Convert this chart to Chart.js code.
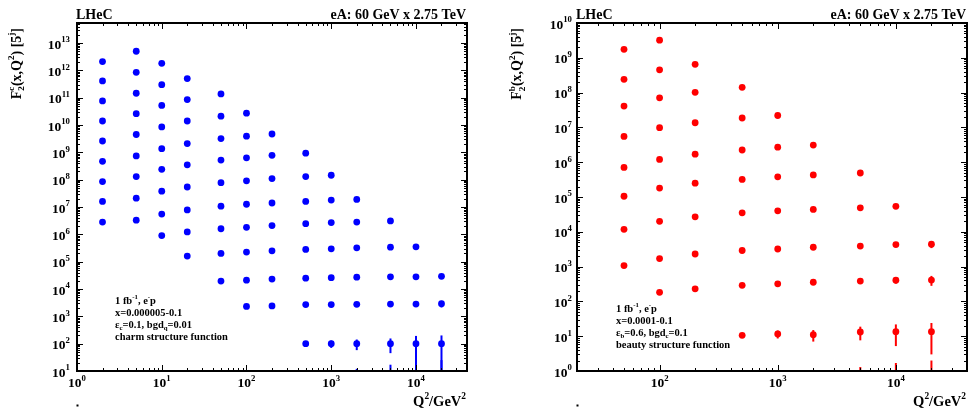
<!DOCTYPE html>
<html>
<head>
<meta charset="utf-8">
<script src="https://cdn.jsdelivr.net/npm/chart.js@4/dist/chart.umd.min.js"></script>
<style>
  body{margin:0;background:#fff;width:971px;height:415px;overflow:hidden;}
  .pane{position:absolute;top:0;height:415px;}
</style>
</head>
<body>
<div class="pane" style="left:0;width:485px"><canvas id="charm"></canvas></div>
<div class="pane" style="left:485px;width:486px"><canvas id="beauty"></canvas></div>
<script>
// charm panel: one list of F2 values per Q2 column (top to bottom)
let charmQ2 = [2, 5, 10, 20, 50, 100, 200, 500, 1000, 2000, 5000, 10000, 20000];
let charmF2 = [
  [2.1e12, 4.1e11, 7.6e10, 1.4e10, 2.6e9, 4.7e8, 8.5e7, 1.6e7, 2.8e6],
  [5e12, 8.5e11, 1.45e11, 2.6e10, 4.5e9, 7.4e8, 1.3e8, 2.1e7, 3.3e6],
  [1.8e12, 3e11, 5.2e10, 8.5e9, 1.36e9, 2.4e8, 3.8e7, 5.5e6, 9e5],
  [5e11, 8.5e10, 1.4e10, 2.1e9, 3.5e8, 5.4e7, 7.8e6, 1.23e6, 1.6e5],
  [1.37e11, 2.1e10, 3.2e9, 5.2e8, 7.8e7, 1.07e7, 1.6e6, 2e5, 1.95e4],
  [2.7e10, 3.9e9, 6.3e8, 9.1e7, 1.26e7, 1.8e6, 2.24e5, 2.1e4, 2.3e3],
  [4.7e9, 7.8e8, 1.1e8, 1.4e7, 2.1e6, 2.5e5, 2.3e4, 2.4e3],
  [9.3e8, 1.3e8, 1.6e7, 2.45e6, 2.8e5, 2.5e4, 2.7e3, 100],
  [1.45e8, 1.8e7, 2.7e6, 2.95e5, 2.6e4, 2.7e3, 100],
  [1.9e7, 2.8e6, 3.2e5, 2.7e4, 2.75e3, 100],
  [3.1e6, 3.4e5, 2.8e4, 2.8e3, 100],
  [3.5e5, 2.8e4, 2.8e3, 100],
  [2.9e4, 2.9e3, 100]
];
let charmErr = [[],[],[],[],[],[],[],
  [0,0,0,0,0,0,0,7],
  [0,0,0,0,0,0,30],
  [0,0,0,0,0,42],
  [0,0,0,150,55],
  [0,0,250,92],
  [0,800,100]
];
// points below the axis, only their error bars show
let charmLowQ2 = [2000, 5000, 10000, 20000];
let charmLowF2 = [1, 1, 1, 1];
let charmLowErr = [11, 16, 21, 24];

// beauty panel
let beautyQ2 = [50, 100, 200, 500, 1000, 2000, 5000, 10000, 20000];
let beautyF2 = [
  [1.75e9, 2.4e8, 4.1e7, 5.5e6, 7.1e5, 1.05e5, 1.18e4, 1.07e3],
  [3.2e9, 4.5e8, 7.1e7, 9.8e6, 1.2e6, 1.8e5, 2e4, 1.7e3, 182],
  [6.5e8, 1.02e8, 1.36e7, 1.7e6, 2.5e5, 2.7e4, 2.3e3, 230],
  [1.42e8, 1.86e7, 2.24e6, 3.2e5, 3.5e4, 2.9e3, 290, 10.6],
  [2.2e7, 2.7e6, 3.8e5, 4e4, 3.2e3, 320, 11.6],
  [3.1e6, 4.3e5, 4.4e4, 3.6e3, 355, 11],
  [4.9e5, 4.9e4, 3.9e3, 385, 13.2],
  [5.4e4, 4.3e3, 405, 13.5],
  [4.4e3, 410, 13.5]
];
let beautyErr = [[],[],[],
  [0,0,0,0,0,0,0,0.8],
  [0,0,0,0,0,0,3],
  [0,0,0,0,0,4],
  [0,0,0,25,5.6],
  [0,300,80,8.3],
  [1000,130,10.5]
];
let beautyLowQ2 = [5000, 10000, 20000];
let beautyLowF2 = [0.3, 0.3, 0.3];
let beautyLowErr = [1.0, 1.4, 1.7];

const FONT = '"Liberation Serif", "Times New Roman", serif';

function points(q2, vals, errs){
  let out = [];
  q2.forEach((q, i) => {
    vals[i].forEach((v, j) => {
      out.push({x: q, y: v, e: (errs[i] && errs[i][j]) || 0});
    });
  });
  return out;
}
function lowPoints(q2, vals, errs){
  return q2.map((q, i) => ({x: q, y: vals[i], e: errs[i]}));
}

// text with super/subscripts: segs = [[text, mode]], mode 0 normal, 1 sup, -1 sub, 2 = "sub|sup" stacked
function rich(ctx, segs, x, y, size, align){
  let small = size * 0.65;
  let big = "bold " + size + "px " + FONT;
  let sm = "bold " + small + "px " + FONT;
  let widths = segs.map(s => {
    if(s[1] === 0){ ctx.font = big; return ctx.measureText(s[0]).width; }
    ctx.font = sm;
    if(s[1] === 2){
      let p = s[0].split("|");
      return Math.max(ctx.measureText(p[0]).width, ctx.measureText(p[1]).width);
    }
    return ctx.measureText(s[0]).width;
  });
  let w = widths.reduce((a, b) => a + b, 0);
  let cx = x;
  if(align === "right") cx = x - w;
  if(align === "center") cx = x - w / 2;
  ctx.textAlign = "left";
  ctx.textBaseline = "alphabetic";
  segs.forEach((s, i) => {
    if(s[1] === 0){
      ctx.font = big; ctx.fillText(s[0], cx, y);
    }else if(s[1] === 1){
      ctx.font = sm; ctx.fillText(s[0], cx, y - size * 0.45);
    }else if(s[1] === -1){
      ctx.font = sm; ctx.fillText(s[0], cx, y + size * 0.25);
    }else{
      let p = s[0].split("|");
      ctx.font = sm;
      ctx.fillText(p[0], cx, y + size * 0.25);
      ctx.fillText(p[1], cx, y - size * 0.45);
    }
    cx += widths[i];
  });
  return w;
}

const errorBars = {
  id: "errorBars",
  beforeDatasetsDraw(chart){
    let ctx = chart.ctx, a = chart.chartArea;
    let xs = chart.scales.x, ys = chart.scales.y;
    ctx.save();
    ctx.beginPath();
    ctx.rect(a.left, a.top, a.right - a.left, a.bottom - a.top);
    ctx.clip();
    chart.data.datasets.forEach(ds => {
      ctx.strokeStyle = ds.barColor;
      ctx.lineWidth = 2;
      ds.data.forEach(p => {
        if(!p.e) return;
        let px = xs.getPixelForValue(p.x);
        let top = ys.getPixelForValue(p.y + p.e);
        let bot = p.y - p.e > 0 ? ys.getPixelForValue(p.y - p.e) : a.bottom + 10;
        ctx.beginPath();
        ctx.moveTo(px, top);
        ctx.lineTo(px, bot);
        ctx.stroke();
      });
    });
    ctx.restore();
  }
};

const frame = {
  id: "frame",
  afterDraw(chart){
    let o = chart.options.plugins.frame;
    let ctx = chart.ctx, a = chart.chartArea;
    let xs = chart.scales.x, ys = chart.scales.y;
    ctx.save();
    ctx.strokeStyle = "#000";
    ctx.fillStyle = "#000";
    ctx.lineWidth = 1;
    // ticks on all four sides
    function logTicks(min, max, fn){
      for(let d = Math.floor(Math.log10(min)); d <= Math.ceil(Math.log10(max)); d++){
        for(let m = 1; m <= 9; m++){
          let v = m * Math.pow(10, d);
          if(v < min * 0.999 || v > max * 1.001) continue;
          fn(v, m === 1, d);
        }
      }
    }
    ctx.beginPath();
    logTicks(ys.min, ys.max, (v, major) => {
      let py = Math.round(ys.getPixelForValue(v)) + 0.5;
      let len = major ? 6 : 3;
      ctx.moveTo(a.left, py); ctx.lineTo(a.left + len, py);
      ctx.moveTo(a.right, py); ctx.lineTo(a.right - len, py);
    });
    logTicks(xs.min, xs.max, (v, major) => {
      let px = Math.round(xs.getPixelForValue(v)) + 0.5;
      let len = major ? 6 : 3;
      ctx.moveTo(px, a.bottom); ctx.lineTo(px, a.bottom - len);
      ctx.moveTo(px, a.top); ctx.lineTo(px, a.top + len);
    });
    ctx.stroke();
    ctx.lineWidth = 2;
    ctx.strokeRect(a.left, a.top, a.right - a.left, a.bottom - a.top);

    // tick labels
    logTicks(ys.min, ys.max, (v, major, d) => {
      if(!major) return;
      let py = ys.getPixelForValue(v);
      rich(ctx, [["10", 0], [String(d), 1]], a.left - o.yLabelGap, py + 5.5, 13.5, "right");
    });
    logTicks(xs.min, xs.max, (v, major, d) => {
      if(!major) return;
      let px = xs.getPixelForValue(v);
      rich(ctx, [["10", 0], [String(d), 1]], px, a.bottom + 16, 13.5, "center");
    });

    // headers
    rich(ctx, [["LHeC", 0]], a.left - 1, 18.5, 14, "left");
    rich(ctx, [["eA: 60 GeV x 2.75 TeV", 0]], a.right - 1, 18.5, 14, "right");

    // axis titles
    rich(ctx, [["Q", 0], ["2", 1], ["/GeV", 0], ["2", 1]], a.right - 1, 405.5, 14.5, "right");
    ctx.save();
    ctx.translate(o.yTitleX, 28);
    ctx.rotate(-Math.PI / 2);
    rich(ctx, [["F", 0], ["2|" + o.flavour, 2], ["(x,Q", 0], ["2", 1], [") [5", 0], ["j", 1], ["]", 0]], 0, 0, 14, "right");
    ctx.restore();

    // info text
    let lx = o.infoX, ly = o.infoY;
    o.info.forEach((segs, i) => rich(ctx, segs, lx, ly + i * 12, 10.5, "left"));

    ctx.fillRect(a.left - 0.5, 404.5, 2, 2);
    ctx.restore();
  }
};

function makeChart(id, q2, vals, errs, lq2, lvals, lerrs, color, xMin, xMax, yMin, yMax, pad, extra){
  return new Chart(document.getElementById(id), {
    type: "scatter",
    data: {
      datasets: [
        {
          data: points(q2, vals, errs),
          backgroundColor: color,
          borderColor: color,
          barColor: color,
          pointRadius: 3.4,
          pointHoverRadius: 3.4,
          borderWidth: 0
        },
        {
          data: lowPoints(lq2, lvals, lerrs),
          backgroundColor: color,
          barColor: color,
          pointRadius: 0
        }
      ]
    },
    options: {
      responsive: true,
      maintainAspectRatio: false,
      animation: false,
      layout: {padding: pad},
      scales: {
        x: {type: "logarithmic", min: xMin, max: xMax, display: false},
        y: {type: "logarithmic", min: yMin, max: yMax, display: false}
      },
      plugins: {
        legend: {display: false},
        tooltip: {enabled: false},
        frame: extra
      }
    },
    plugins: [errorBars, frame]
  });
}

makeChart("charm", charmQ2, charmF2, charmErr, charmLowQ2, charmLowF2, charmLowErr,
  "#0000ff", 1, 4e4, 10, 5.4e13,
  {left: 77, right: 18, top: 23, bottom: 44},
  {
    flavour: "c", yTitleX: 20.7, yLabelGap: 7,
    infoX: 115, infoY: 303.5,
    info: [
      [["1 fb", 0], ["-1", 1], [", e", 0], ["-", 1], ["p", 0]],
      [["x=0.000005-0.1", 0]],
      [["\u03b5", 0], ["c", -1], ["=0.1, bgd", 0], ["q", -1], ["=0.01", 0]],
      [["charm structure function", 0]]
    ]
  });

makeChart("beauty", beautyQ2, beautyF2, beautyErr, beautyLowQ2, beautyLowF2, beautyLowErr,
  "#ff0000", 20, 4e4, 1, 1e10,
  {left: 92, right: 4, top: 23, bottom: 44},
  {
    flavour: "b", yTitleX: 36, yLabelGap: 5,
    infoX: 131, infoY: 311.5,
    info: [
      [["1 fb", 0], ["-1", 1], [", e", 0], ["-", 1], ["p", 0]],
      [["x=0.0001-0.1", 0]],
      [["\u03b5", 0], ["b", -1], ["=0.6, bgd", 0], ["c", -1], ["=0.1", 0]],
      [["beauty structure function", 0]]
    ]
  });
</script>
</body>
</html>
